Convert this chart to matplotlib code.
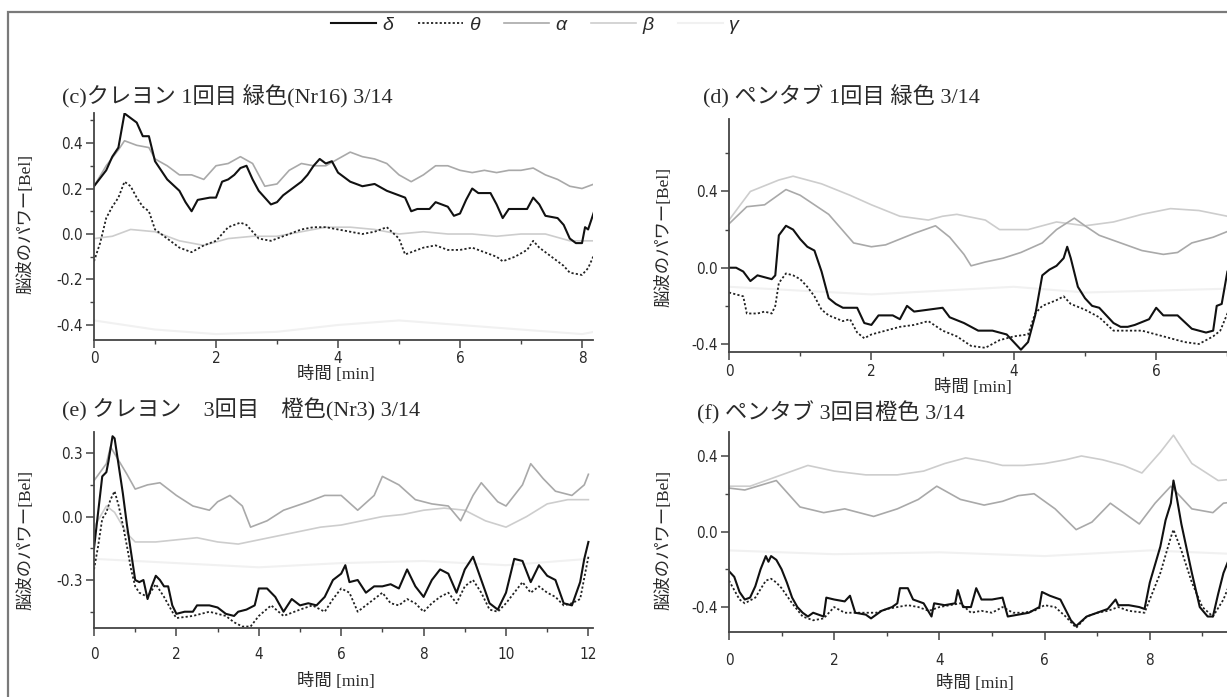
import numpy as np
import matplotlib
matplotlib.use('Agg')
import matplotlib.pyplot as plt
from matplotlib.lines import Line2D
from matplotlib.patches import Rectangle
from matplotlib.ticker import MultipleLocator, FormatStrFormatter

W, H = 1227, 697

# ---- data (time [min], power [Bel]) ----
# (c) crayon, 1st, green
c_delta_t = [0, 0.2, 0.3, 0.4, 0.5, 0.6, 0.7, 0.8, 0.9, 1.0, 1.1, 1.2, 1.4, 1.5, 1.6, 1.7, 1.9, 2.0, 2.1, 2.2,
             2.3, 2.4, 2.5, 2.6, 2.7, 2.8, 2.9, 3.0, 3.1, 3.2, 3.3, 3.4, 3.5, 3.6, 3.7, 3.8, 3.9, 4.0, 4.1, 4.2,
             4.4, 4.6, 4.8, 5.0, 5.1, 5.2, 5.3, 5.5, 5.6, 5.8, 5.9, 6.0, 6.1, 6.2, 6.3, 6.5, 6.6, 6.7, 6.8, 7.0,
             7.1, 7.2, 7.3, 7.4, 7.6, 7.7, 7.8, 7.9, 8.0, 8.05, 8.1, 8.2]
c_delta = [0.21, 0.28, 0.34, 0.38, 0.53, 0.51, 0.49, 0.43, 0.43, 0.32, 0.28, 0.24, 0.19, 0.14, 0.10, 0.15, 0.16, 0.16, 0.23, 0.24,
           0.26, 0.29, 0.30, 0.24, 0.19, 0.16, 0.13, 0.14, 0.17, 0.19, 0.21, 0.23, 0.26, 0.30, 0.33, 0.31, 0.32, 0.27, 0.25, 0.23,
           0.21, 0.22, 0.19, 0.17, 0.16, 0.10, 0.11, 0.11, 0.14, 0.12, 0.08, 0.09, 0.15, 0.20, 0.18, 0.18, 0.13, 0.07, 0.11, 0.11,
           0.11, 0.16, 0.13, 0.08, 0.07, 0.04, -0.02, -0.04, -0.04, 0.03, 0.02, 0.10]
c_theta_t = [0, 0.1, 0.2, 0.3, 0.4, 0.5, 0.6, 0.7, 0.8, 0.9, 1.0, 1.1, 1.2, 1.4, 1.6, 1.8, 2.0, 2.1, 2.2, 2.4,
             2.5, 2.6, 2.7, 2.9, 3.0, 3.2, 3.4, 3.6, 3.8, 4.0, 4.2, 4.4, 4.6, 4.8, 5.0, 5.1, 5.2, 5.4, 5.6, 5.8,
             6.0, 6.2, 6.4, 6.6, 6.7, 6.9, 7.1, 7.2, 7.3, 7.5, 7.7, 7.8, 8.0, 8.1, 8.2]
c_theta = [-0.12, -0.04, 0.07, 0.12, 0.16, 0.23, 0.21, 0.16, 0.12, 0.10, 0.02, 0.0, -0.02, -0.06, -0.08, -0.05, -0.03, 0.0, 0.03, 0.05,
           0.04, 0.01, -0.02, -0.03, -0.02, 0.0, 0.02, 0.03, 0.03, 0.02, 0.01, 0.0, 0.01, 0.03, -0.02, -0.09, -0.08, -0.06, -0.05, -0.07,
           -0.07, -0.06, -0.08, -0.10, -0.12, -0.10, -0.07, -0.03, -0.06, -0.10, -0.14, -0.17, -0.18, -0.15, -0.09]
c_alpha_t = [0, 0.2, 0.4, 0.5, 0.7, 0.9, 1.0, 1.2, 1.4, 1.6, 1.8, 2.0, 2.2, 2.4, 2.6, 2.8, 3.0, 3.2, 3.4, 3.6,
             3.8, 4.0, 4.2, 4.4, 4.6, 4.8, 5.0, 5.2, 5.4, 5.6, 5.8, 6.0, 6.2, 6.4, 6.6, 6.8, 7.0, 7.2, 7.4, 7.6,
             7.8, 8.0, 8.2]
c_alpha = [0.21, 0.30, 0.37, 0.41, 0.39, 0.38, 0.33, 0.30, 0.26, 0.26, 0.24, 0.30, 0.31, 0.34, 0.31, 0.21, 0.22, 0.28, 0.31, 0.30,
           0.30, 0.33, 0.36, 0.34, 0.33, 0.31, 0.26, 0.23, 0.26, 0.30, 0.30, 0.28, 0.27, 0.28, 0.27, 0.28, 0.28, 0.29, 0.26, 0.24,
           0.21, 0.20, 0.22]
c_beta_t = [0, 0.3, 0.6, 1.0, 1.4, 1.8, 2.2, 2.6, 3.0, 3.4, 3.8, 4.2, 4.6, 5.0, 5.4, 5.8, 6.2, 6.6, 7.0, 7.4, 7.8, 8.2]
c_beta = [-0.02, -0.01, 0.02, 0.01, -0.03, -0.05, -0.02, -0.01, -0.01, 0.01, 0.03, 0.03, 0.02, 0.0, 0.01, 0.0, 0.0, -0.01, 0.0, 0.0, -0.03, -0.03]
c_gamma_t = [0, 1, 2, 3, 4, 5, 6, 7, 8, 8.2]
c_gamma = [-0.38, -0.42, -0.44, -0.43, -0.40, -0.38, -0.40, -0.42, -0.44, -0.43]

# (d) pen tablet, 1st, green
d_delta_t = [0, 0.1, 0.2, 0.3, 0.4, 0.5, 0.6, 0.65, 0.7, 0.8, 0.9, 1.0, 1.1, 1.2, 1.3, 1.4, 1.5, 1.6, 1.8, 1.9,
             2.0, 2.1, 2.3, 2.4, 2.5, 2.6, 2.8, 3.0, 3.1, 3.3, 3.5, 3.7, 3.9, 4.0, 4.1, 4.2, 4.3, 4.4, 4.5, 4.6,
             4.7, 4.75, 4.8, 4.9, 5.0, 5.1, 5.2, 5.3, 5.4, 5.5, 5.6, 5.7, 5.9, 6.0, 6.1, 6.3, 6.5, 6.7, 6.8, 6.85,
             6.92, 7.0, 7.1, 7.2]
d_delta = [0.0, 0.0, -0.02, -0.07, -0.04, -0.05, -0.06, -0.04, 0.17, 0.22, 0.20, 0.15, 0.11, 0.09, -0.02, -0.16, -0.19, -0.21, -0.21, -0.29,
           -0.30, -0.25, -0.25, -0.27, -0.20, -0.23, -0.22, -0.21, -0.26, -0.29, -0.33, -0.33, -0.35, -0.39, -0.43, -0.39, -0.25, -0.04, -0.01, 0.01,
           0.05, 0.11, 0.05, -0.10, -0.16, -0.20, -0.21, -0.25, -0.29, -0.31, -0.31, -0.30, -0.27, -0.21, -0.25, -0.25, -0.32, -0.34, -0.33, -0.20,
           -0.19, -0.02, 0.05, 0.08]
d_theta_t = [0, 0.1, 0.2, 0.25, 0.4, 0.5, 0.6, 0.65, 0.7, 0.8, 0.9, 1.0, 1.1, 1.2, 1.3, 1.4, 1.6, 1.7, 1.8, 1.9,
             2.0, 2.2, 2.4, 2.6, 2.8, 3.0, 3.2, 3.4, 3.6, 3.8, 4.0, 4.2, 4.3, 4.4, 4.6, 4.7, 4.8, 5.0, 5.2, 5.4,
             5.6, 5.8, 6.0, 6.2, 6.4, 6.6, 6.8, 6.9, 7.0, 7.1, 7.2]
d_theta = [-0.13, -0.14, -0.15, -0.24, -0.24, -0.23, -0.24, -0.20, -0.08, -0.03, -0.04, -0.06, -0.10, -0.15, -0.22, -0.25, -0.28, -0.27, -0.34, -0.37,
           -0.35, -0.33, -0.31, -0.30, -0.28, -0.33, -0.36, -0.41, -0.42, -0.38, -0.36, -0.35, -0.24, -0.20, -0.17, -0.15, -0.19, -0.22, -0.26, -0.33,
           -0.33, -0.33, -0.35, -0.37, -0.39, -0.40, -0.36, -0.33, -0.24, -0.20, -0.18]
d_alpha_t = [0, 0.25, 0.5, 0.8, 1.0, 1.4, 1.75, 2.0, 2.2, 2.6, 2.9, 3.1, 3.3, 3.4, 3.6, 3.85, 4.1, 4.4, 4.6, 4.85,
             5.0, 5.2, 5.5, 5.8, 6.1, 6.3, 6.5, 6.8, 7.0, 7.2]
d_alpha = [0.23, 0.32, 0.33, 0.41, 0.38, 0.28, 0.13, 0.11, 0.12, 0.18, 0.22, 0.16, 0.07, 0.01, 0.03, 0.05, 0.08, 0.13, 0.20, 0.26,
           0.22, 0.17, 0.13, 0.09, 0.07, 0.08, 0.13, 0.16, 0.19, 0.20]
d_beta_t = [0, 0.3, 0.7, 0.9, 1.3, 1.7, 2.0, 2.4, 2.8, 3.0, 3.2, 3.6, 3.8, 4.2, 4.6, 5.0, 5.4, 5.8, 6.2, 6.6, 7.0, 7.2]
d_beta = [0.25, 0.40, 0.46, 0.48, 0.44, 0.38, 0.33, 0.27, 0.25, 0.27, 0.28, 0.25, 0.20, 0.20, 0.24, 0.22, 0.24, 0.28, 0.31, 0.30, 0.27, 0.26]
d_gamma_t = [0, 1, 2, 3, 4, 5, 6, 7, 7.2]
d_gamma = [-0.10, -0.12, -0.14, -0.12, -0.10, -0.13, -0.12, -0.11, -0.11]

# (e) crayon, 3rd, orange
e_delta_t = [0, 0.1, 0.2, 0.3, 0.35, 0.45, 0.5, 0.6, 0.7, 0.8, 0.9, 1.0, 1.1, 1.2, 1.3, 1.4, 1.5, 1.6, 1.7, 1.8,
             1.9, 2.0, 2.2, 2.4, 2.5, 2.6, 2.8, 3.0, 3.2, 3.4, 3.5, 3.7, 3.9, 4.0, 4.2, 4.4, 4.6, 4.8, 5.0, 5.2,
             5.4, 5.6, 5.8, 6.0, 6.1, 6.2, 6.4, 6.6, 6.8, 7.0, 7.2, 7.4, 7.6, 7.8, 8.0, 8.2, 8.4, 8.6, 8.8, 9.0,
             9.2, 9.4, 9.6, 9.8, 10.0, 10.2, 10.4, 10.6, 10.8, 11.0, 11.2, 11.4, 11.6, 11.8, 11.9, 12.0]
e_delta = [-0.15, 0.02, 0.19, 0.21, 0.26, 0.38, 0.37, 0.24, 0.11, -0.04, -0.17, -0.30, -0.31, -0.30, -0.39, -0.33, -0.28, -0.30, -0.33, -0.33,
           -0.42, -0.46, -0.45, -0.45, -0.42, -0.42, -0.42, -0.43, -0.46, -0.47, -0.45, -0.44, -0.42, -0.34, -0.34, -0.38, -0.45, -0.39, -0.42, -0.41,
           -0.42, -0.38, -0.30, -0.27, -0.23, -0.31, -0.30, -0.36, -0.33, -0.33, -0.32, -0.34, -0.25, -0.33, -0.38, -0.30, -0.25, -0.27, -0.36, -0.25,
           -0.19, -0.30, -0.41, -0.44, -0.36, -0.20, -0.21, -0.31, -0.23, -0.28, -0.30, -0.41, -0.42, -0.31, -0.20, -0.12]
e_theta_t = [0, 0.1, 0.2, 0.3, 0.4, 0.5, 0.6, 0.7, 0.8, 0.9, 1.0, 1.1, 1.3, 1.5, 1.7, 1.9, 2.0, 2.4, 2.8, 3.2,
             3.4, 3.6, 3.8, 4.0, 4.3, 4.6, 5.0, 5.3, 5.6, 5.8, 6.0, 6.2, 6.4, 6.6, 6.8, 7.0, 7.2, 7.4, 7.6, 7.8,
             8.0, 8.2, 8.4, 8.6, 8.8, 9.0, 9.2, 9.4, 9.6, 9.8, 10.0, 10.2, 10.4, 10.6, 10.8, 11.0, 11.2, 11.4, 11.6, 11.8,
             12.0]
e_theta = [-0.25, -0.14, -0.01, 0.02, 0.08, 0.12, 0.05, -0.04, -0.14, -0.25, -0.33, -0.36, -0.38, -0.32, -0.38, -0.45, -0.48, -0.47, -0.45, -0.47,
           -0.50, -0.52, -0.52, -0.47, -0.42, -0.47, -0.44, -0.42, -0.45, -0.39, -0.34, -0.36, -0.45, -0.42, -0.39, -0.36, -0.41, -0.42, -0.39, -0.41,
           -0.45, -0.41, -0.38, -0.36, -0.41, -0.33, -0.30, -0.36, -0.44, -0.45, -0.41, -0.36, -0.31, -0.36, -0.33, -0.36, -0.38, -0.42, -0.41, -0.39,
           -0.19]
e_alpha_t = [0, 0.3, 0.4, 0.8, 1.0, 1.3, 1.6, 2.0, 2.4, 2.8, 3.0, 3.3, 3.6, 3.8, 4.2, 4.6, 5.2, 5.6, 6.0, 6.4,
             6.8, 7.0, 7.4, 7.8, 8.2, 8.6, 8.9, 9.2, 9.4, 9.8, 10.0, 10.4, 10.6, 10.9, 11.2, 11.6, 11.9, 12.0]
e_alpha = [0.17, 0.25, 0.33, 0.20, 0.13, 0.15, 0.16, 0.10, 0.05, 0.03, 0.07, 0.10, 0.05, -0.05, -0.02, 0.03, 0.07, 0.10, 0.10, 0.03,
           0.10, 0.19, 0.15, 0.08, 0.06, 0.05, -0.02, 0.10, 0.16, 0.07, 0.05, 0.15, 0.25, 0.18, 0.12, 0.10, 0.15, 0.20]
e_beta_t = [0, 0.3, 0.5, 0.8, 1.0, 1.5, 2.0, 2.5, 3.0, 3.5, 4.0, 4.5, 5.0, 5.5, 6.0, 6.5, 7.0, 7.5, 8.0, 8.5,
            9.0, 9.5, 10.0, 10.5, 11.0, 11.5, 12.0]
e_beta = [-0.05, 0.05, 0.02, -0.08, -0.12, -0.12, -0.11, -0.10, -0.12, -0.13, -0.11, -0.09, -0.07, -0.05, -0.04, -0.02, 0.0, 0.01, 0.03, 0.04,
          0.03, -0.02, -0.05, 0.0, 0.06, 0.08, 0.08]
e_gamma_t = [0, 2, 4, 6, 8, 10, 12]
e_gamma = [-0.20, -0.22, -0.24, -0.22, -0.21, -0.23, -0.20]

# (f) pen tablet, 3rd, orange
f_delta_t = [0, 0.1, 0.2, 0.3, 0.4, 0.5, 0.6, 0.7, 0.75, 0.8, 0.9, 1.0, 1.1, 1.2, 1.3, 1.4, 1.5, 1.6, 1.8, 1.85,
             2.0, 2.2, 2.3, 2.4, 2.6, 2.7, 2.9, 3.1, 3.2, 3.25, 3.4, 3.5, 3.7, 3.85, 3.9, 4.1, 4.3, 4.35, 4.45, 4.6,
             4.7, 4.8, 5.0, 5.2, 5.3, 5.5, 5.7, 5.9, 5.95, 6.1, 6.3, 6.5, 6.6, 6.8, 7.0, 7.2, 7.35, 7.4, 7.6, 7.8,
             7.9, 8.0, 8.2, 8.3, 8.4, 8.45, 8.5, 8.6, 8.8, 8.95, 9.1, 9.2, 9.3, 9.4, 9.5, 9.6, 9.7]
f_delta = [-0.21, -0.24, -0.32, -0.36, -0.35, -0.29, -0.20, -0.13, -0.16, -0.13, -0.15, -0.20, -0.27, -0.35, -0.40, -0.43, -0.45, -0.43, -0.45, -0.35,
           -0.36, -0.37, -0.34, -0.43, -0.44, -0.46, -0.42, -0.40, -0.38, -0.30, -0.30, -0.36, -0.38, -0.45, -0.38, -0.39, -0.38, -0.31, -0.40, -0.40,
           -0.30, -0.36, -0.36, -0.35, -0.45, -0.44, -0.43, -0.40, -0.32, -0.34, -0.36, -0.47, -0.50, -0.45, -0.43, -0.41, -0.36, -0.39, -0.39, -0.40,
           -0.41, -0.27, -0.08, 0.06, 0.15, 0.27, 0.20, 0.04, -0.22, -0.40, -0.45, -0.45, -0.33, -0.22, -0.15, -0.08, -0.02]
f_theta_t = [0, 0.2, 0.3, 0.5, 0.7, 0.8, 0.9, 1.0, 1.2, 1.4, 1.6, 1.8, 2.0, 2.2, 2.4, 2.6, 2.8, 3.0, 3.2, 3.4,
             3.6, 3.8, 4.0, 4.2, 4.4, 4.6, 4.8, 5.0, 5.2, 5.4, 5.6, 5.8, 6.0, 6.2, 6.4, 6.6, 6.8, 7.0, 7.2, 7.4,
             7.6, 7.9, 8.0, 8.2, 8.4, 8.45, 8.6, 8.8, 9.0, 9.2, 9.4, 9.5, 9.6, 9.7]
f_theta = [-0.26, -0.36, -0.38, -0.35, -0.26, -0.25, -0.27, -0.30, -0.38, -0.45, -0.47, -0.46, -0.40, -0.43, -0.43, -0.43, -0.43, -0.41, -0.40, -0.39,
           -0.40, -0.42, -0.40, -0.39, -0.38, -0.43, -0.42, -0.43, -0.40, -0.43, -0.43, -0.42, -0.39, -0.40, -0.45, -0.51, -0.45, -0.43, -0.42, -0.40,
           -0.42, -0.43, -0.36, -0.22, -0.03, 0.01, -0.10, -0.27, -0.40, -0.45, -0.36, -0.29, -0.22, -0.17]
f_alpha_t = [0, 0.3, 0.9, 1.35, 1.8, 2.2, 2.75, 3.2, 3.6, 3.95, 4.4, 4.85, 5.2, 5.5, 5.8, 6.2, 6.6, 6.9, 7.25, 7.5,
             7.8, 8.1, 8.4, 8.8, 9.2, 9.4, 9.7]
f_alpha = [0.23, 0.22, 0.27, 0.13, 0.10, 0.12, 0.08, 0.12, 0.17, 0.24, 0.17, 0.14, 0.16, 0.19, 0.20, 0.12, 0.01, 0.05, 0.15, 0.10,
           0.04, 0.15, 0.24, 0.12, 0.10, 0.15, 0.16]
f_beta_t = [0, 0.4, 0.9, 1.5, 2.0, 2.6, 3.2, 3.7, 4.1, 4.5, 4.9, 5.2, 5.6, 6.0, 6.4, 6.7, 7.1, 7.5, 7.85, 8.2,
            8.45, 8.8, 9.3, 9.7]
f_beta = [0.24, 0.24, 0.29, 0.35, 0.32, 0.30, 0.30, 0.32, 0.36, 0.39, 0.37, 0.35, 0.35, 0.36, 0.38, 0.40, 0.38, 0.35, 0.31, 0.42,
          0.51, 0.36, 0.27, 0.28]
f_gamma_t = [0, 2, 4, 6, 8, 9.7]
f_gamma = [-0.10, -0.12, -0.11, -0.13, -0.10, -0.12]

titles = ['(c)クレヨン 1回目 緑色(Nr16) 3/14', '(d) ペンタブ 1回目 緑色 3/14',
          '(e) クレヨン　3回目　橙色(Nr3) 3/14', '(f) ペンタブ 3回目橙色 3/14']
band_names = ['δ', 'θ', 'α', 'β', 'γ']
ylabel = '脳波のパワー[Bel]'
xlabel = '時間 [min]'

# ---- styles ----
jp_font = ['Liberation Serif', 'Noto Sans CJK JP', 'DejaVu Sans']
band_style = {
    'δ': dict(color='#111111', lw=1.5, ls='-'),
    'θ': dict(color='#222222', lw=1.3, ls=(0, (1.2, 1.2))),
    'α': dict(color='#a9a9a9', lw=1.2, ls='-'),
    'β': dict(color='#cdcdcd', lw=1.2, ls='-'),
    'γ': dict(color='#f1f1f1', lw=1.5, ls='-'),
}
axis_col = '#444444'
text_col = '#2a2a2a'

fig = plt.figure(figsize=(W / 100, H / 100), dpi=100)


def px(x, y):
    return x / W, 1 - y / H


def make_panel(left, top, bottom, ppu, xmax, ylim, ymaj, xlab_pad):
    ax = fig.add_axes([left / W, 1 - bottom / H, ppu * xmax / W, (bottom - top) / H])
    ax.set_xlim(0, xmax)
    ax.set_ylim(*ylim)
    for s in ['top', 'right']:
        ax.spines[s].set_visible(False)
    for s in ['left', 'bottom']:
        ax.spines[s].set_color(axis_col)
        ax.spines[s].set_linewidth(1.3)
    ax.xaxis.set_major_locator(MultipleLocator(2))
    ax.xaxis.set_minor_locator(MultipleLocator(1))
    ax.yaxis.set_major_locator(MultipleLocator(ymaj))
    ax.yaxis.set_minor_locator(MultipleLocator(ymaj / 2))
    ax.xaxis.set_major_formatter(FormatStrFormatter('%d'))
    ax.yaxis.set_major_formatter(FormatStrFormatter('%.1f'))
    ax.tick_params(which='major', direction='out', length=6, width=1.1, color=axis_col,
                   labelsize=11, labelcolor=text_col)
    ax.tick_params(which='minor', direction='out', length=3, width=1.0, color=axis_col)
    ax.tick_params(axis='y', which='major', pad=2)
    ax.tick_params(axis='x', which='major', pad=xlab_pad)
    for lab in ax.get_xticklabels() + ax.get_yticklabels():
        lab.set_family('DejaVu Sans')
        lab.set_stretch('condensed')
    ax.patch.set_alpha(0)
    return ax


def draw(ax, series):
    # gamma first so delta ends on top
    for name in ['γ', 'β', 'α', 'θ', 'δ']:
        t, v = series[name]
        ax.plot(t, v, **band_style[name])


ax_c = make_panel(94, 113, 340, 61.0, 8.18, (-0.466, 0.532), 0.2, 2)
draw(ax_c, {'δ': (c_delta_t, c_delta), 'θ': (c_theta_t, c_theta), 'α': (c_alpha_t, c_alpha),
            'β': (c_beta_t, c_beta), 'γ': (c_gamma_t, c_gamma)})
ax_d = make_panel(729, 119, 352, 71.2, 7.2, (-0.442, 0.78), 0.4, 3)
draw(ax_d, {'δ': (d_delta_t, d_delta), 'θ': (d_theta_t, d_theta), 'α': (d_alpha_t, d_alpha),
            'β': (d_beta_t, d_beta), 'γ': (d_gamma_t, d_gamma)})
ax_e = make_panel(94, 432, 628, 41.2, 12.1, (-0.527, 0.40), 0.3, 8)
draw(ax_e, {'δ': (e_delta_t, e_delta), 'θ': (e_theta_t, e_theta), 'α': (e_alpha_t, e_alpha),
            'β': (e_beta_t, e_beta), 'γ': (e_gamma_t, e_gamma)})
ax_f = make_panel(729, 432, 632, 52.6, 9.7, (-0.532, 0.527), 0.4, 9)
draw(ax_f, {'δ': (f_delta_t, f_delta), 'θ': (f_theta_t, f_theta), 'α': (f_alpha_t, f_alpha),
            'β': (f_beta_t, f_beta), 'γ': (f_gamma_t, f_gamma)})

# titles, axis labels (placed in pixel coordinates)
title_pos = [(62, 97), (703, 97), (62, 410), (697, 413)]
for (x, y), s in zip(title_pos, titles):
    fig.text(*px(x, y), s, ha='left', va='center', fontsize=16, family=jp_font, color=text_col)

ylab_pos = [(26, 224), (664, 237), (26, 540), (664, 540)]
for x, y in ylab_pos:
    fig.text(*px(x, y), ylabel, ha='center', va='center', rotation=90, fontsize=12.5,
             family=jp_font, color=text_col)

xlab_pos = [(336, 375), (973, 388), (336, 682), (975, 684)]
for x, y in xlab_pos:
    fig.text(*px(x, y), xlabel, ha='center', va='center', fontsize=12.5, family=jp_font, color=text_col)

# legend across the top
handles = [Line2D([], [], **band_style[n]) for n in band_names]
leg = fig.legend(handles, band_names, loc='center', bbox_to_anchor=px(535, 25), ncol=5,
                 frameon=False, handlelength=2.3, handletextpad=0.3, columnspacing=1.3,
                 prop={'family': 'Liberation Sans', 'style': 'italic', 'size': 14})
for txt in leg.get_texts():
    txt.set_color(text_col)

# scan frame
fig.add_artist(Rectangle(px(8, H + 50), 2, (H + 50 - 12) / H, transform=fig.transFigure,
                         fill=False, ec='#7a7a7a', lw=1.6))

fig.savefig('out.png', dpi=100)
